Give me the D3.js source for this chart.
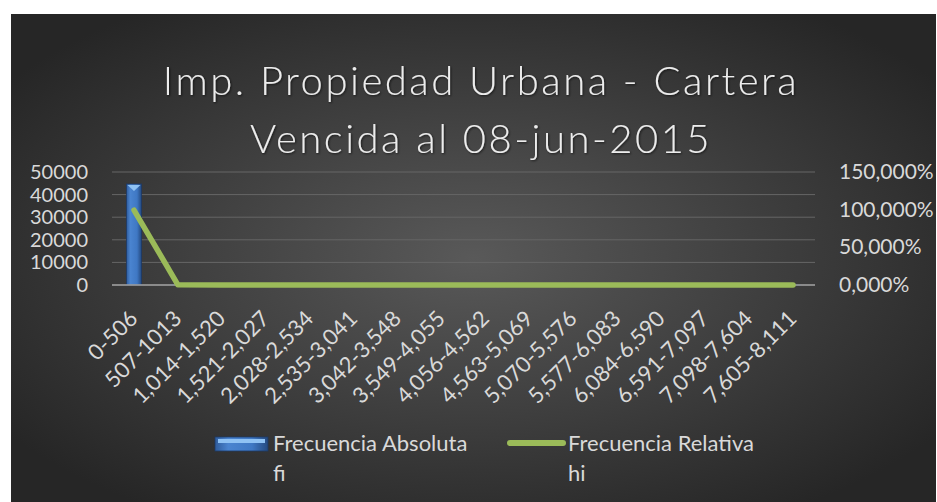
<!DOCTYPE html>
<html>
<head>
<meta charset="utf-8">
<script src="https://cdn.jsdelivr.net/npm/d3@7"></script>
<style>
body { margin:0; background:#fff; }
svg { display:block; font-family:Lato, 'Open Sans', sans-serif; }
</style>
</head>
<body>
<div id="container"></div>
<script>
// Chart data
var categories = ['0-506','507-1013','1,014-1,520','1,521-2,027','2,028-2,534','2,535-3,041','3,042-3,548','3,549-4,055','4,056-4,562','4,563-5,069','5,070-5,576','5,577-6,083','6,084-6,590','6,591-7,097','7,098-7,604','7,605-8,111']
var fi = [44700, 120, 35, 12, 6, 4, 2, 2, 1, 1, 1, 0, 0, 0, 0, 1]
var hi = [0.995, 0.003, 0.001, 0, 0, 0, 0, 0, 0, 0, 0, 0, 0, 0, 0, 0]
var leftTicks = [0, 10000, 20000, 30000, 40000, 50000]
var rightTicks = [0, 0.5, 1, 1.5]
var titleLines = ['Imp. Propiedad Urbana - Cartera', 'Vencida al 08-jun-2015']
var legendNames = [['Frecuencia Absoluta', 'fi'], ['Frecuencia Relativa', 'hi']]

var W = 937, H = 502
var plot = {left:112, right:815, top:172, bottom:285}

var svg = d3.select('#container').append('svg').attr('width', W).attr('height', H)
var defs = svg.append('defs')

var bg = defs.append('radialGradient').attr('id', 'bg')
	.attr('cx', '50%').attr('cy', '50%').attr('r', '62%')
bg.append('stop').attr('offset', '0%').attr('stop-color', '#595959')
bg.append('stop').attr('offset', '100%').attr('stop-color', '#262626')

var barGrad = defs.append('linearGradient').attr('id', 'barGrad')
	.attr('x1', '0%').attr('x2', '100%')
barGrad.append('stop').attr('offset', '0%').attr('stop-color', '#2f5c9c')
barGrad.append('stop').attr('offset', '25%').attr('stop-color', '#4a84d0')
barGrad.append('stop').attr('offset', '70%').attr('stop-color', '#3f78c4')
barGrad.append('stop').attr('offset', '100%').attr('stop-color', '#24497f')

var shadow = defs.append('filter').attr('id', 'tshadow')
shadow.append('feDropShadow').attr('dx', 1).attr('dy', 1).attr('stdDeviation', 1)
	.attr('flood-color', '#000').attr('flood-opacity', 0.6)

svg.append('rect').attr('x', 11).attr('y', 14).attr('width', 925).attr('height', H - 14)
	.attr('fill', 'url(#bg)')

// scales
var x = d3.scaleBand().domain(categories).range([plot.left, plot.right])
var yL = d3.scaleLinear().domain([0, 50000]).range([plot.bottom, plot.top])
var yR = d3.scaleLinear().domain([0, 1.5]).range([plot.bottom, plot.top])

// gridlines
svg.append('g').selectAll('line').data(leftTicks.slice(1)).enter().append('line')
	.attr('x1', plot.left).attr('x2', plot.right)
	.attr('y1', function(d) { return yL(d) }).attr('y2', function(d) { return yL(d) })
	.attr('stroke', '#666').attr('stroke-width', 1)

// left axis labels
svg.append('g').selectAll('text').data(leftTicks).enter().append('text')
	.attr('x', 88).attr('y', function(d) { return yL(d) + 7 })
	.attr('text-anchor', 'end').attr('fill', '#d9d9d9').style('font-size', '20px')
	.text(function(d) { return d })

// right axis labels
var pct = function(d) { return d3.format('.3f')(d * 100).replace('.', ',') + '%' }
svg.append('g').selectAll('text').data(rightTicks).enter().append('text')
	.attr('x', 839).attr('y', function(d) { return yR(d) + 7 })
	.attr('fill', '#d9d9d9').style('font-size', '21px')
	.text(pct)

// bars
var bw = 15
var bars = svg.append('g')
bars.selectAll('rect').data(fi).enter().append('rect')
	.attr('x', function(d, i) { return x(categories[i]) + x.bandwidth() / 2 - bw / 2 })
	.attr('y', function(d) { return yL(d) })
	.attr('width', bw)
	.attr('height', function(d) { return plot.bottom - yL(d) })
	.attr('fill', 'url(#barGrad)').attr('stroke', '#1d3a66').attr('stroke-width', 0.8)
bars.selectAll('path').data(fi.filter(function(d) { return d > 1000 })).enter().append('path')
	.attr('d', function(d, i) {
		var cx = x(categories[i]) + x.bandwidth() / 2, t = yL(d)
		return 'M' + (cx - bw / 2 + 1) + ',' + (t + 1) + 'L' + (cx + bw / 2 - 1) + ',' + (t + 1) + 'L' + cx + ',' + (t + 7) + 'Z'
	})
	.attr('fill', '#8fc2f4')

// baseline
svg.append('line').attr('x1', plot.left).attr('x2', plot.right)
	.attr('y1', plot.bottom).attr('y2', plot.bottom)
	.attr('stroke', '#a6a6a6').attr('stroke-width', 1.5)

// line series
var line = d3.line()
	.x(function(d, i) { return x(categories[i]) + x.bandwidth() / 2 })
	.y(function(d) { return yR(d) })
svg.append('path').datum(hi).attr('d', line)
	.attr('fill', 'none').attr('stroke', '#9bbb59').attr('stroke-width', 5.5)
	.attr('stroke-linecap', 'round').attr('stroke-linejoin', 'round')

// category labels
svg.append('g').selectAll('text').data(categories).enter().append('text')
	.attr('transform', function(d) { return 'translate(' + (x(d) + x.bandwidth() / 2 + 5) + ',' + 320 + ') rotate(-45)' })
	.attr('text-anchor', 'end').attr('fill', '#d9d9d9').style('font-size', '22px')
	.text(function(d) { return d })

// title
svg.append('g').selectAll('text').data(titleLines).enter().append('text')
	.attr('x', 481).attr('y', function(d, i) { return 95 + i * 58 })
	.attr('text-anchor', 'middle').attr('fill', '#ececec')
	.style('font-size', '40px').style('font-weight', 300).style('letter-spacing', '2.5px')
	.attr('filter', 'url(#tshadow)')
	.text(function(d) { return d })

// legend
var leg = svg.append('g')
leg.append('rect').attr('x', 215).attr('y', 437).attr('width', 53).attr('height', 14)
	.attr('fill', 'url(#barGrad)').attr('stroke', '#1d3a66').attr('stroke-width', 0.8)
leg.append('rect').attr('x', 218).attr('y', 439).attr('width', 47).attr('height', 4).attr('fill', '#8fc2f4')
leg.append('line').attr('x1', 510).attr('x2', 563).attr('y1', 443).attr('y2', 443)
	.attr('stroke', '#9bbb59').attr('stroke-width', 6).attr('stroke-linecap', 'round')
var legX = [273, 568]
legendNames.forEach(function(names, k) {
	names.forEach(function(n, j) {
		leg.append('text').attr('x', legX[k]).attr('y', 451 + j * 30)
			.attr('fill', '#d9d9d9').style('font-size', '22px').text(n)
	})
})
</script>
</body>
</html>
